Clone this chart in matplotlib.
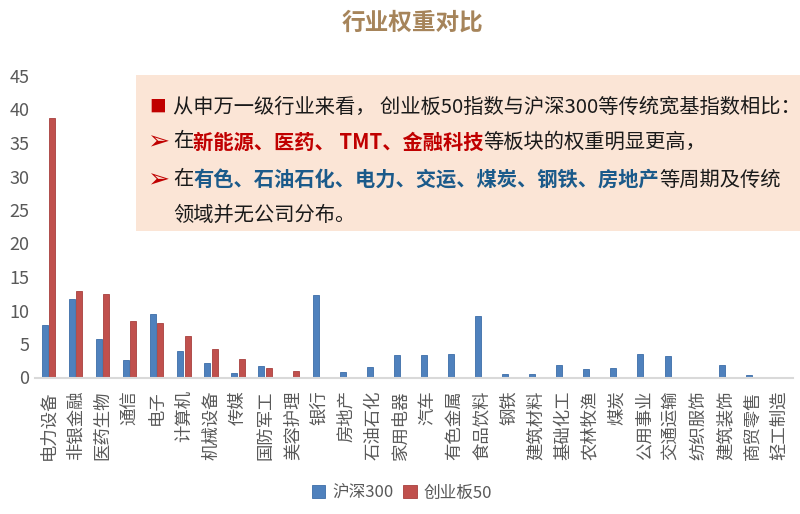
import matplotlib
matplotlib.use("Agg")
import matplotlib.pyplot as plt
import numpy as np
from matplotlib.patches import Rectangle
from matplotlib.text import Annotation

plt.rcParams['font.family'] = ['Noto Sans CJK SC', 'DejaVu Sans']

# 行业与权重 (%)
industries = ["电力设备", "非银金融", "医药生物", "通信", "电子", "计算机", "机械设备",
              "传媒", "国防军工", "美容护理", "银行", "房地产", "石油石化", "家用电器",
              "汽车", "有色金属", "食品饮料", "钢铁", "建筑材料", "基础化工", "农林牧渔",
              "煤炭", "公用事业", "交通运输", "纺织服饰", "建筑装饰", "商贸零售", "轻工制造"]
hs300 = [7.8, 11.7, 5.7, 2.6, 9.5, 4.0, 2.2, 0.6, 1.7, 0.0, 12.3, 0.8, 1.5, 3.3,
         3.4, 3.5, 9.2, 0.45, 0.55, 1.9, 1.25, 1.35, 3.5, 3.2, 0.0, 1.9, 0.35, 0.0]
cyb50 = [38.7, 12.9, 12.5, 8.5, 8.2, 6.2, 4.3, 2.8, 1.4, 0.9, 0, 0, 0, 0,
         0, 0, 0, 0, 0, 0, 0, 0, 0, 0, 0, 0, 0, 0]
yticks = [0, 5, 10, 15, 20, 25, 30, 35, 40, 45]

W, H = 800, 514
fig = plt.figure(figsize=(8, 5.14), dpi=100)
ax = fig.add_axes([35 / W, 1 - 377.5 / H, (793 - 35) / W, (377.5 - 76) / H])

x = np.arange(len(industries))
bw = 0.22
ax.bar(x - 0.135, hs300, bw, color='#4F81BD', edgecolor='#3C6DA8', linewidth=0.6, label='沪深300')
ax.bar(x + 0.135, cyb50, bw, color='#C0504D', edgecolor='#A8403D', linewidth=0.6, label='创业板50')

ax.set_xlim(-0.5, len(industries) - 0.5)
ax.set_ylim(0, 45)
ax.set_yticks(yticks)
ax.set_xticks(x)
ax.set_xticklabels(industries, rotation=90, fontsize=12.5, color='#595959')
ax.tick_params(axis='x', length=0, pad=9)
ax.tick_params(axis='y', length=0, pad=4, labelsize=13, labelcolor='#595959')
for s in ['top', 'right', 'left']:
    ax.spines[s].set_visible(False)
ax.spines['bottom'].set_color('#D9D9D9')
ax.spines['bottom'].set_linewidth(1.5)

fig.text(412 / W, 1 - 23 / H, "行业权重对比", fontsize=17, fontweight='bold',
         color='#A6845A', ha='center', va='center')

handles, labels = ax.get_legend_handles_labels()
fig.legend(handles, labels, loc='center', bbox_to_anchor=(402 / W, 1 - 493 / H), ncol=2,
           frameon=False, fontsize=12, handlelength=0.8, handleheight=0.8,
           handletextpad=0.4, columnspacing=0.6, labelcolor='#595959')

# 说明文字框
fig.patches.append(Rectangle((136 / W, 1 - 231 / H), (800 - 136) / W, (231 - 75) / H,
                             transform=fig.transFigure, facecolor='#FBE5D6',
                             edgecolor='none', zorder=1))

RED = '#C00000'
BLUE = '#1B5A8A'
BLACK = '#1A1A1A'
lines = [
    [("从申万一级行业来看， 创业板50指数与沪深300等传统宽基指数相比：", BLACK, 'normal')],
    [("在", BLACK, 'normal'), ("新能源、医药、 TMT、金融科技", RED, 'bold'),
     ("等板块的权重明显更高，", BLACK, 'normal')],
    [("在", BLACK, 'normal'), ("有色、石油石化、电力、交运、煤炭、钢铁、房地产", BLUE, 'bold'),
     ("等周期及传统", BLACK, 'normal')],
    [("领域并无公司分布。", BLACK, 'normal')],
]
markers = [("■", RED, 12), ("➢", RED, 19), ("➢", RED, 19), None]
line_y = [107, 142, 180, 215]
FS = 14.6

for segs, mk, ly in zip(lines, markers, line_y):
    yy = 1 - ly / H
    if mk is not None:
        fig.text(158 / W, yy, mk[0], fontsize=mk[2], color=mk[1], ha='center', va='center', zorder=3)
    prev = None
    for txt, col, wt in segs:
        if prev is None:
            prev = fig.text(173 / W, yy, txt, fontsize=FS, color=col, fontweight=wt,
                            ha='left', va='center', zorder=3)
        else:
            ann = Annotation(txt, xy=(1, 0.5), xycoords=prev, ha='left', va='center',
                             fontsize=FS, color=col, fontweight=wt, zorder=3,
                             annotation_clip=False)
            fig.add_artist(ann)
            prev = ann

fig.savefig("out.png", dpi=100)
